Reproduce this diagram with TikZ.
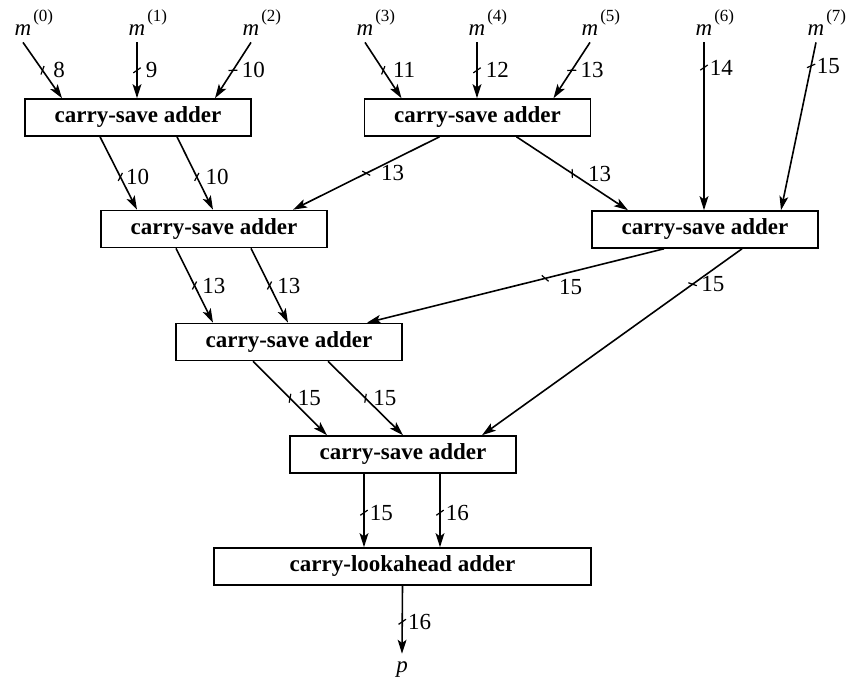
\documentclass[tikz,border=0pt]{standalone}
\usepackage{fontspec}
\setmainfont{Liberation Serif}
\usetikzlibrary{positioning,arrows.meta,calc}
\newcommand{\mreg}[1]{\textit{m}\rlap{\kern1pt\raisebox{6.5pt}{\fontsize{8.5}{9}\selectfont(#1)}}}
\tikzset{
  csab/.style={draw, line width=0.8pt, minimum width=113pt, minimum height=18.5pt,
    inner sep=0pt, font=\bfseries\fontsize{11.5}{13}\selectfont},
  clab/.style={csab, minimum width=188.5pt},
  inb/.style={inner xsep=0pt, inner ysep=3.5pt, font=\fontsize{11.5}{13}\selectfont},
  bus/.style={-{Stealth[length=7pt,width=4.4pt,inset=1.6pt]}, line width=0.8pt},
  tick/.style={sloped, draw, line width=0.6pt, inner sep=0pt, minimum width=0pt,
    minimum height=4.5pt, rotate=35},
  blab/.style={anchor=west, inner sep=0pt, xshift=2.5pt, font=\fontsize{11.5}{13}\selectfont},
}

\begin{document}
\begin{tikzpicture}[x=0.5pt,y=-0.5pt]
  \useasboundingbox (0,0) rectangle (848,685);
  % operands
  \node[inb, anchor=base] (m0) at (23,35) {\mreg{0}};
  \node[inb, anchor=base] (m1) at (137,35) {\mreg{1}};
  \node[inb, anchor=base] (m2) at (251,35) {\mreg{2}};
  \node[inb, anchor=base] (m3) at (365,35) {\mreg{3}};
  \node[inb, anchor=base] (m4) at (477,35) {\mreg{4}};
  \node[inb, anchor=base] (m5) at (590,35) {\mreg{5}};
  \node[inb, anchor=base] (m6) at (704,35) {\mreg{6}};
  \node[inb, anchor=base] (m7) at (816,35) {\mreg{7}};
  % adders
  \node[csab] (c1) at (138,117.5) {carry-save adder};
  \node[csab] (c2) at (477.5,117.5) {carry-save adder};
  \node[csab] (c3) at (214,229) {carry-save adder};
  \node[csab] (c4) at (705,229.5) {carry-save adder};
  \node[csab] (c5) at (289,342) {carry-save adder};
  \node[csab] (c6) at (403,454.5) {carry-save adder};
  \node[clab] (cl) at (402.5,566.5) {carry-lookahead adder};
  \node[inb, anchor=base] (p) at (402,672) {\textit{p}};
  % first level
  \draw[bus] (m0.south) -- node[tick]{} node[blab, xshift=2.5pt]{8} ($(c1.north)+(-76,0)$);
  \draw[bus] (m1.south) -- node[tick]{} node[blab, xshift=1.5pt]{9} (m1.south |- c1.north);
  \draw[bus] (m2.south) -- node[tick]{} node[blab, xshift=1.5pt]{10} ($(c1.north)+(77,0)$);
  \draw[bus] (m3.south) -- node[tick]{} node[blab, xshift=2pt]{11} ($(c2.north)+(-76,0)$);
  \draw[bus] (m4.south) -- node[tick]{} node[blab, xshift=1.5pt]{12} (m4.south |- c2.north);
  \draw[bus] (m5.south) -- node[tick]{} node[blab, xshift=1.5pt]{13} ($(c2.north)+(76,0)$);
  \draw[bus] (m6.south) -- node[tick, pos=.15]{} node[blab, pos=.15]{14} (m6.south |- c4.north);
  \draw[bus] (m7.south) -- node[tick, pos=.14]{} node[blab, pos=.14]{15} ($(c4.north)+(76,0)$);
  % second level
  \draw[bus] ($(c1.south)+(-38,0)$) -- node[tick, pos=.55]{} node[blab, pos=.55]{10} ($(c3.north)+(-77,0)$);
  \draw[bus] ($(c1.south)+(39,0)$) -- node[tick, pos=.55]{} node[blab, pos=.55, xshift=1.5pt]{10} ($(c3.north)+(-1,0)$);
  \draw[bus] ($(c2.south)+(-38,0)$) -- node[tick]{} node[blab, xshift=4.5pt]{13} ($(c3.north)+(79,0)$);
  \draw[bus] ($(c2.south)+(39,0)$) -- node[tick]{} node[blab, xshift=5pt]{13} ($(c4.north)+(-77,0)$);
  % third level
  \draw[bus] ($(c3.south)+(-38,0)$) -- node[tick]{} node[blab, xshift=1pt]{13} ($(c5.north)+(-76,0)$);
  \draw[bus] ($(c3.south)+(37,0)$) -- node[tick]{} node[blab, xshift=1pt]{13} ($(c5.north)+(-1,0)$);
  \draw[bus] ($(c4.south)+(-41,0)$) -- node[tick, pos=.4]{} node[blab, pos=.4, xshift=4pt, yshift=-4.5pt]{15} ($(c5.north)+(78,0)$);
  \draw[bus] ($(c4.south)+(37,0)$) -- node[tick, pos=.19]{} node[blab, pos=.19, xshift=1.5pt]{15} ($(c6.north)+(79,0)$);
  % fourth level
  \draw[bus] ($(c5.south)+(-36,0)$) -- node[tick]{} node[blab, xshift=1pt]{15} ($(c6.north)+(-76,0)$);
  \draw[bus] ($(c5.south)+(39,0)$) -- node[tick]{} node[blab, xshift=1pt]{15} (c6.north);
  % final adder
  \draw[bus] ($(c6.south)+(-39,0)$) -- node[tick, pos=.53]{} node[blab, pos=.53]{15} ($(cl.north)+(-38.5,0)$);
  \draw[bus] ($(c6.south)+(37,0)$) -- node[tick, pos=.53]{} node[blab, pos=.53]{16} ($(cl.north)+(37.5,0)$);
  \draw[bus] (cl.south) -- node[tick, pos=.53]{} node[blab, pos=.53]{16} (p.north);
\end{tikzpicture}
\end{document}
